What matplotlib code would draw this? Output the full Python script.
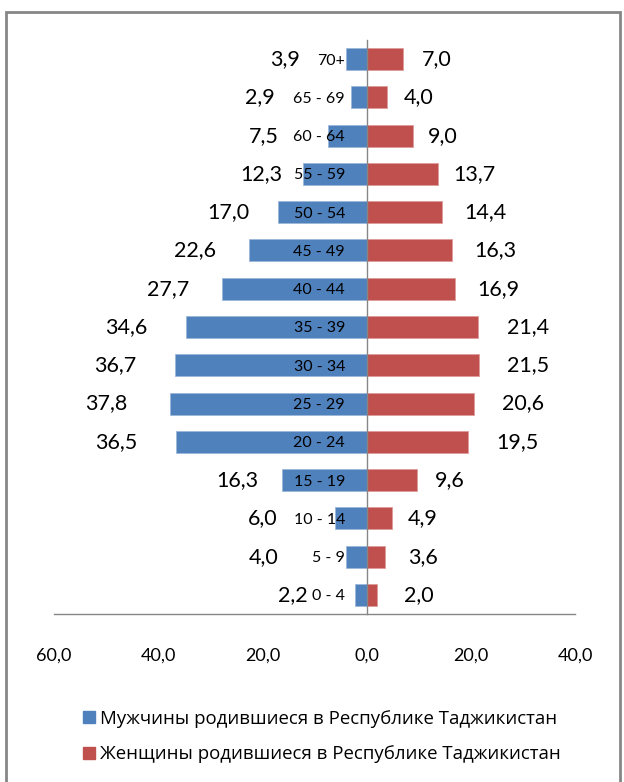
import matplotlib
matplotlib.use('Agg')
import matplotlib.pyplot as plt
from matplotlib.patches import Rectangle, Patch
from matplotlib.ticker import FuncFormatter, FixedLocator
import numpy as np

plt.rcParams['font.family'] = ['Lato', 'Open Sans', 'DejaVu Sans']

# ---- data ----
age_groups = ['0 - 4', '5 - 9', '10 - 14', '15 - 19', '20 - 24', '25 - 29',
              '30 - 34', '35 - 39', '40 - 44', '45 - 49', '50 - 54',
              '55 - 59', '60 - 64', '65 - 69', '70+']
male = [2.2, 4.0, 6.0, 16.3, 36.5, 37.8, 36.7, 34.6, 27.7, 22.6, 17.0,
        12.3, 7.5, 2.9, 3.9]
female = [2.0, 3.6, 4.9, 9.6, 19.5, 20.6, 21.5, 21.4, 16.9, 16.3, 14.4,
          13.7, 9.0, 4.0, 7.0]
x_ticks = [-60, -40, -20, 0, 20, 40]
series_names = ['Мужчины родившиеся в Республике Таджикистан',
                'Женщины родившиеся в Республике Таджикистан']

# ---- layout (hand-placed label centres in the original, data units) ----
male_label_x = [-14.2, -19.8, -20.0, -24.8, -48.1, -50.0, -48.3, -46.2,
                -38.1, -32.9, -26.5, -20.2, -19.8, -20.4, -15.6]
female_label_x = [10.0, 10.8, 10.8, 16.0, 29.0, 30.0, 31.0, 31.0, 25.2,
                  24.8, 22.9, 20.6, 14.6, 10.0, 13.5]

blue = '#4F81BD'
red = '#C0504D'
axis_gray = '#868686'

W, H = 624, 782
fig = plt.figure(figsize=(W / 100, H / 100), dpi=100)
fig.patch.set_facecolor('white')

ax = fig.add_axes([54 / W, (H - 614) / H, (575 - 54) / W, (614 - 40) / H])
y = np.arange(len(age_groups))
male_arr = np.array(male)
female_arr = np.array(female)

ax.barh(y, -male_arr, height=0.575, color=blue, edgecolor='#9DB7DA',
        linewidth=0.6, zorder=1)
ax.barh(y, female_arr, height=0.575, color=red, edgecolor='#DE9C9A',
        linewidth=0.6, zorder=1)

ax.set_xlim(-60, 40)
ax.set_ylim(-0.5, len(age_groups) - 0.5)

for sp in ['top', 'right']:
    ax.spines[sp].set_visible(False)
ax.spines['left'].set_position(('data', 0))
ax.spines['left'].set_color(axis_gray)
ax.spines['bottom'].set_color(axis_gray)
ax.spines['left'].set_linewidth(1.0)
ax.spines['bottom'].set_linewidth(1.0)

ax.xaxis.set_major_locator(FixedLocator(x_ticks))
ax.xaxis.set_major_formatter(FuncFormatter(
    lambda v, p: f'{abs(v):.1f}'.replace('.', ',')))
ax.set_yticks(y)
ax.set_yticklabels(age_groups)
ax.tick_params(axis='x', length=0, pad=24, labelsize=13, labelcolor='black')
ax.tick_params(axis='y', length=0, pad=15.5, labelsize=11.5,
               labelcolor='black')

for i in range(len(age_groups)):
    ax.text(male_label_x[i], y[i], f'{male[i]:.1f}'.replace('.', ','),
            ha='center', va='center', fontsize=15.5, color='black')
    ax.text(female_label_x[i], y[i], f'{female[i]:.1f}'.replace('.', ','),
            ha='center', va='center', fontsize=15.5, color='black')

handles = [Patch(facecolor=blue, edgecolor=blue),
           Patch(facecolor=red, edgecolor=red)]
fig.legend(handles, series_names, loc='upper left',
           bbox_to_anchor=(66 / W, 1 - 693 / H), frameon=False,
           handlelength=0.65, handleheight=0.65, handletextpad=0.25,
           labelspacing=0.95, prop={'family': ['Open Sans', 'DejaVu Sans'],
                                    'size': 13.4})

fig.patches.append(Rectangle((6 / W, -0.05), (620 - 6) / W,
                             1.05 - 12 / H, transform=fig.transFigure,
                             fill=False, edgecolor=axis_gray, linewidth=2))

fig.savefig('out.png', dpi=100)
